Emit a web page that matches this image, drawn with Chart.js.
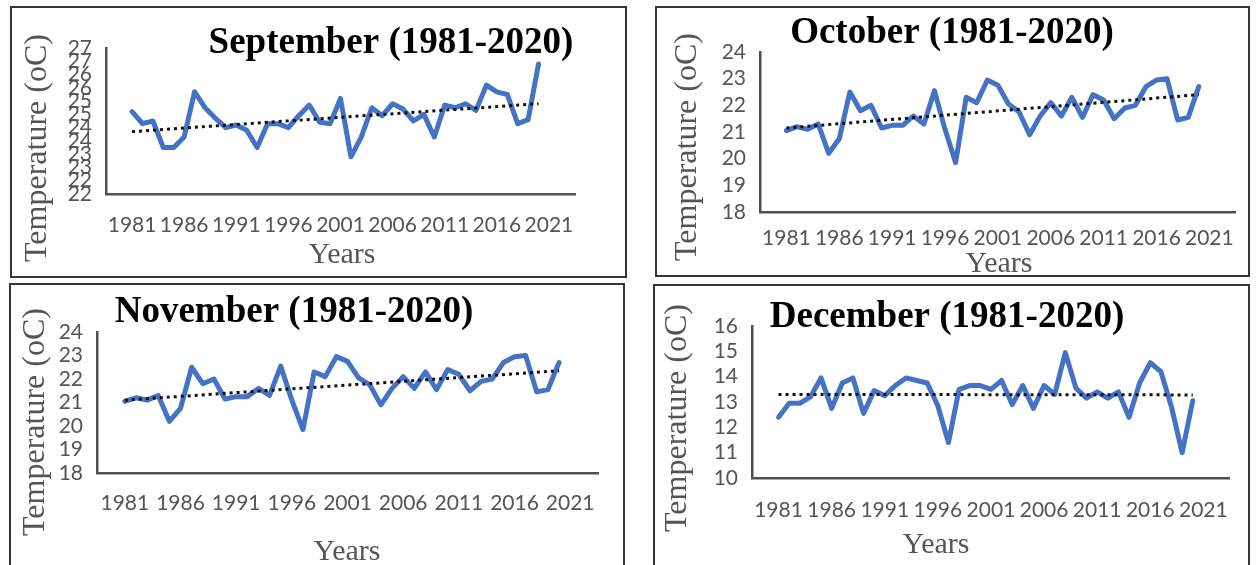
<!DOCTYPE html>
<html>
<head>
<meta charset="utf-8">
<script src="https://cdn.jsdelivr.net/npm/chart.js@4.4.1/dist/chart.umd.min.js"></script>
<style>
  body { margin: 0; width: 1256px; height: 565px; overflow: hidden; background: #fff; position: relative; }
  .panel { position: absolute; border: 2px solid #363636; box-sizing: border-box; overflow: hidden; }
  .panel canvas { display: block; }
</style>
</head>
<body>
<div class="panel" style="left:10px;top:6px;width:617px;height:272px"><canvas id="sep" width="613" height="268"></canvas></div>
<div class="panel" style="left:655px;top:6px;width:595px;height:271px"><canvas id="oct" width="591" height="267"></canvas></div>
<div class="panel" style="left:9px;top:283px;width:616px;height:300px"><canvas id="nov" width="612" height="296"></canvas></div>
<div class="panel" style="left:653px;top:284px;width:597px;height:300px"><canvas id="dec" width="593" height="296"></canvas></div>
<script>
// Years and tick labels
const years = [1981, 1982, 1983, 1984, 1985, 1986, 1987, 1988, 1989, 1990,
               1991, 1992, 1993, 1994, 1995, 1996, 1997, 1998, 1999, 2000,
               2001, 2002, 2003, 2004, 2005, 2006, 2007, 2008, 2009, 2010,
               2011, 2012, 2013, 2014, 2015, 2016, 2017, 2018, 2019, 2020];
const xTickYears = [1981, 1986, 1991, 1996, 2001, 2006, 2011, 2016, 2021];
const trendYears = [1981, 2020];

// Monthly mean temperature (oC)
const sepTemps = [24.6, 24.15, 24.25, 23.25, 23.25, 23.65, 25.35, 24.75, 24.35, 24.0,
                  24.1, 23.9, 23.25, 24.15, 24.15, 24.0, 24.45, 24.85, 24.2, 24.15,
                  25.1, 22.9, 23.65, 24.75, 24.45, 24.9, 24.7, 24.25, 24.5, 23.65,
                  24.85, 24.75, 24.9, 24.65, 25.6, 25.35, 25.25, 24.15, 24.3, 26.4];
const octTemps = [21.05, 21.2, 21.1, 21.3, 20.2, 20.75, 22.5, 21.8, 22.0, 21.15,
                  21.25, 21.25, 21.6, 21.3, 22.55, 21.1, 19.85, 22.3, 22.1, 22.95,
                  22.75, 22.05, 21.75, 20.9, 21.6, 22.1, 21.6, 22.3, 21.55, 22.4,
                  22.2, 21.5, 21.9, 22.0, 22.7, 22.95, 23.0, 21.45, 21.55, 22.7];
const novTemps = [21.05, 21.2, 21.1, 21.3, 20.2, 20.75, 22.5, 21.8, 22.0, 21.15,
                  21.25, 21.25, 21.6, 21.3, 22.55, 21.1, 19.85, 22.3, 22.1, 22.95,
                  22.75, 22.05, 21.75, 20.9, 21.6, 22.1, 21.6, 22.3, 21.55, 22.4,
                  22.2, 21.5, 21.9, 22.0, 22.7, 22.95, 23.0, 21.45, 21.55, 22.7];
const decTemps = [12.4, 12.95, 12.95, 13.2, 13.95, 12.75, 13.75, 13.95, 12.55, 13.45,
                  13.25, 13.65, 13.95, 13.85, 13.75, 12.85, 11.4, 13.5, 13.65, 13.65,
                  13.5, 13.85, 12.9, 13.65, 12.75, 13.65, 13.3, 14.95, 13.55, 13.15,
                  13.4, 13.15, 13.4, 12.4, 13.75, 14.55, 14.2, 12.8, 11.0, 13.05];

// Linear trend end values (1981, 2020)
const sepTrend = [23.85, 24.9];
const octTrend = [21.15, 22.4];
const novTrend = [21.1, 22.35];
const decTrend = [13.3, 13.28];

const grayText = '#555555';

// Draws the panel title and the two axis titles
const panelText = {
    id: 'panelText',
    afterDraw(chart, args, o) {
        const ctx = chart.ctx;
        ctx.save();
        ctx.textAlign = 'center';
        ctx.textBaseline = 'alphabetic';
        ctx.fillStyle = '#000';
        ctx.font = 'bold 37px "Liberation Serif", "Times New Roman", serif';
        ctx.fillText(o.title, o.titlePos[0], o.titlePos[1]);
        ctx.fillStyle = grayText;
        ctx.font = '30px "Liberation Serif", "Times New Roman", serif';
        ctx.fillText('Years', o.xTitlePos[0], o.xTitlePos[1]);
        ctx.translate(o.yTitlePos[0], o.yTitlePos[1]);
        ctx.rotate(-Math.PI / 2);
        ctx.font = '32px "Liberation Serif", "Times New Roman", serif';
        ctx.fillText('Temperature (oC)', 0, 0);
        ctx.restore();
    }
};

function drawPanel(id, p) {
    const canvas = document.getElementById(id);
    const W = canvas.width, H = canvas.height;
    const area = p.area;
    const tickFont = { family: 'Lato', size: 21 };

    new Chart(canvas, {
        type: 'line',
        data: {
            datasets: [
                {
                    data: years.map((y, i) => ({ x: y, y: p.temps[i] })),
                    borderColor: '#4472C4',
                    borderWidth: 5,
                    borderJoinStyle: 'round',
                    borderCapStyle: 'round',
                    pointRadius: 0,
                    tension: 0,
                    order: 1
                },
                {
                    data: trendYears.map((y, i) => ({ x: y, y: p.trend[i] })),
                    borderColor: '#111',
                    borderWidth: 3,
                    borderDash: [3, 4],
                    pointRadius: 0,
                    order: 0
                }
            ]
        },
        options: {
            responsive: false,
            animation: false,
            events: [],
            layout: { padding: { left: 0, top: area.top, right: W - area.right, bottom: 0 } },
            plugins: {
                legend: { display: false },
                tooltip: { enabled: false },
                panelText: {
                    title: p.title,
                    titlePos: p.titlePos,
                    xTitlePos: p.xTitlePos,
                    yTitlePos: p.yTitlePos
                }
            },
            scales: {
                x: {
                    type: 'linear',
                    min: 1978.5,
                    max: 2023.5,
                    afterBuildTicks: s => { s.ticks = xTickYears.map(v => ({ value: v })); },
                    afterFit: s => { s.height = H - area.bottom; },
                    grid: { display: false, drawTicks: false },
                    border: { color: '#505050', width: 2.5 },
                    ticks: {
                        autoSkip: false,
                        maxRotation: 0,
                        padding: p.xTickPad,
                        color: grayText,
                        font: tickFont,
                        callback: v => String(v)
                    }
                },
                y: {
                    min: p.yMin,
                    max: p.yMax,
                    afterFit: s => { s.width = area.left; },
                    grid: { display: false, drawTicks: false },
                    border: { color: '#505050', width: 2.5 },
                    ticks: {
                        stepSize: p.yStep,
                        autoSkip: false,
                        padding: 14,
                        color: grayText,
                        font: tickFont,
                        callback: v => String(Math.round(v))
                    }
                }
            }
        },
        plugins: [panelText]
    });
}

drawPanel('sep', {
    title: 'September (1981-2020)',
    temps: sepTemps, trend: sepTrend,
    yMin: 21.5, yMax: 27, yStep: 0.5,
    area: { left: 94, top: 40, right: 563, bottom: 186 },
    xTickPad: 19,
    titlePos: [379, 45], xTitlePos: [330, 255], yTitlePos: [34, 140]
});

drawPanel('oct', {
    title: 'October (1981-2020)',
    temps: octTemps, trend: octTrend,
    yMin: 18, yMax: 24, yStep: 1,
    area: { left: 103, top: 44, right: 586, bottom: 204 },
    xTickPad: 14,
    titlePos: [295, 35], xTitlePos: [342, 264], yTitlePos: [39, 139]
});

drawPanel('nov', {
    title: 'November (1981-2020)',
    temps: novTemps, trend: novTrend,
    yMin: 18, yMax: 24, yStep: 1,
    area: { left: 86, top: 47, right: 587, bottom: 188 },
    xTickPad: 18,
    titlePos: [283, 37], xTitlePos: [336, 275], yTitlePos: [33, 137]
});

drawPanel('dec', {
    title: 'December (1981-2020)',
    temps: decTemps, trend: decTrend,
    yMin: 10, yMax: 16, yStep: 1,
    area: { left: 97, top: 40, right: 588, bottom: 192 },
    xTickPad: 20,
    titlePos: [292, 41], xTitlePos: [281, 267], yTitlePos: [31, 132]
});
</script>
</body>
</html>
